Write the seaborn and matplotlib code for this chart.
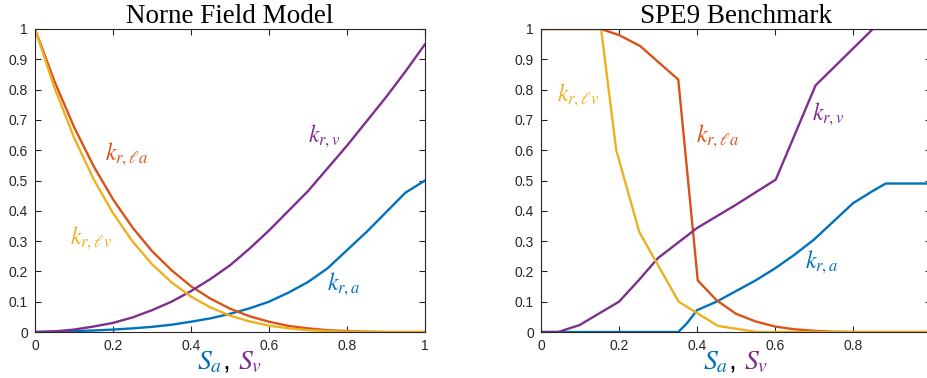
import numpy as np
import pandas as pd
import matplotlib
matplotlib.use("Agg")
import matplotlib.pyplot as plt
import seaborn as sns

# ---------------- data ----------------
# Norne Field Model
norne_s = [0, .05, .1, .15, .2, .25, .3, .35, .4, .45, .5, .55, .6, .65, .7, .75, .8, .85, .9, .95, 1]
norne_kra = [0, .001, .003, .005, .008, .012, .017, .024, .034, .045, .06, .078, .10, .13, .165, .21, .27, .33, .395, .46, .50]
norne_krla = [1, .827, .677, .548, .438, .345, .267, .204, .151, .110, .077, .052, .034, .020, .012, .006, .003, .001, 0, 0, 0]
norne_krlv = [1, .806, .642, .505, .392, .299, .224, .164, .117, .081, .054, .035, .021, .012, .006, .003, .001, 0, 0, 0, 0]
norne_krv = [0, .002, .008, .018, .03, .048, .072, .10, .135, .175, .22, .275, .335, .40, .465, .54, .615, .695, .775, .86, .95]

# SPE9 Benchmark
spe9_kra_s = [0, .352, .375, .4, .45, .5, .55, .6, .65, .7, .75, .8, .85, .884, 1]
spe9_kra = [0, 0, .03, .072, .10, .135, .17, .21, .255, .305, .365, .425, .465, .49, .49]
spe9_krla_s = [0, .154, .2, .254, .352, .402, .45, .5, .55, .6, .65, .7, .75, .8, 1]
spe9_krla = [1, 1, .98, .944, .833, .17, .105, .06, .035, .018, .009, .004, .001, 0, 0]
spe9_krlv_s = [0, .154, .193, .252, .353, .454, .554, 1]
spe9_krlv = [1, 1, .60, .33, .10, .02, 0, 0]
spe9_krv_s = [0, .044, .099, .2, .25, .3, .4, .5, .602, .704, .851, 1]
spe9_krv = [0, 0, .023, .10, .17, .244, .343, .42, .503, .814, 1, 1]

series_names = ["kra", "krla", "krv", "krlv"]
colors = {"kra": "#0072BD", "krla": "#D95319", "krlv": "#EDB120", "krv": "#7E2F8E"}
labels = {"kra": r"$k_{r,a}$", "krla": r"$k_{r,\ell a}$", "krlv": r"$k_{r,\ell v}$", "krv": r"$k_{r,v}$"}
xticks = [0, 0.2, 0.4, 0.6, 0.8, 1]
xticklabels = [["0", "0.2", "0.4", "0.6", "0.8", "1"],
               ["0", "0.2", "0.4", "0.6", "0.8", ""]]  # "1" falls outside the image on the right panel
yticks = [0, .1, .2, .3, .4, .5, .6, .7, .8, .9, 1]
yticklabels = ["0", "0.1", "0.2", "0.3", "0.4", "0.5", "0.6", "0.7", "0.8", "0.9", "1"]
titles = ["Norne Field Model", "SPE9 Benchmark"]

def long_df(d):
    rows = []
    for name in series_names:
        s, k = d[name]
        for a, b in zip(s, k):
            rows.append((name, a, b))
    return pd.DataFrame(rows, columns=["series", "S", "kr"])

df_norne = long_df({"kra": (norne_s, norne_kra), "krla": (norne_s, norne_krla),
                    "krlv": (norne_s, norne_krlv), "krv": (norne_s, norne_krv)})
df_spe9 = long_df({"kra": (spe9_kra_s, spe9_kra), "krla": (spe9_krla_s, spe9_krla),
                   "krlv": (spe9_krlv_s, spe9_krlv), "krv": (spe9_krv_s, spe9_krv)})

# label positions (data coords, left edge / vertical center)
label_pos = [
    {"krla": (0.18, 0.585), "krlv": (0.09, 0.31), "krv": (0.70, 0.645), "kra": (0.75, 0.158)},
    {"krlv": (0.04, 0.78), "krla": (0.397, 0.645), "krv": (0.695, 0.72), "kra": (0.678, 0.23)},
]

# ---------------- figure ----------------
sns.set_theme(style="white")
plt.rcParams["font.family"] = ["Liberation Sans", "DejaVu Sans"]
plt.rcParams["mathtext.fontset"] = "stix"

W, H = 928, 378
fig = plt.figure(figsize=(W / 100, H / 100), dpi=100)
axes = [fig.add_axes([35 / W, (H - 332) / H, 390 / W, 303 / H]),
        fig.add_axes([541 / W, (H - 332) / H, 390 / W, 303 / H])]

edge = "#262626"
for i, (ax, df) in enumerate(zip(axes, [df_norne, df_spe9])):
    sns.lineplot(data=df, x="S", y="kr", hue="series", hue_order=series_names,
                 palette=colors, sort=False, estimator=None, legend=False,
                 linewidth=1.7, ax=ax)
    ax.set_xlim(0, 1)
    ax.set_ylim(0, 1)
    ax.set_xticks(xticks)
    ax.set_xticklabels(xticklabels[i])
    ax.set_yticks(yticks)
    ax.set_yticklabels(yticklabels)
    ax.tick_params(direction="in", length=4, width=0.8, colors=edge, labelsize=10,
                   top=True, right=True, bottom=True, left=True, pad=5)
    for sp in ax.spines.values():
        sp.set_color(edge)
        sp.set_linewidth(0.8)
    ax.set_xlabel("")
    ax.set_ylabel("")
    ax.set_title(titles[i], family=["Liberation Serif", "DejaVu Serif"], fontsize=19.5,
                 color="black", pad=4)
    for name, (lx, ly) in label_pos[i].items():
        ax.text(lx, ly, labels[name], color=colors[name], fontsize=17,
                ha="left", va="center")
    # colored x label
    comma = ax.text(0.49, -0.125, ",", transform=ax.transAxes, fontsize=20,
                    ha="center", va="baseline", color="black")
    ax.annotate(r"$S_a$", xy=(0, 0), xycoords=comma, xytext=(0, 0),
                textcoords="offset points", ha="right", va="bottom",
                fontsize=20, color=colors["kra"])
    ax.annotate(r"$S_v$", xy=(1, 0), xycoords=comma, xytext=(6, 0),
                textcoords="offset points", ha="left", va="bottom",
                fontsize=20, color=colors["krv"])

fig.savefig("out.png", dpi=100)
